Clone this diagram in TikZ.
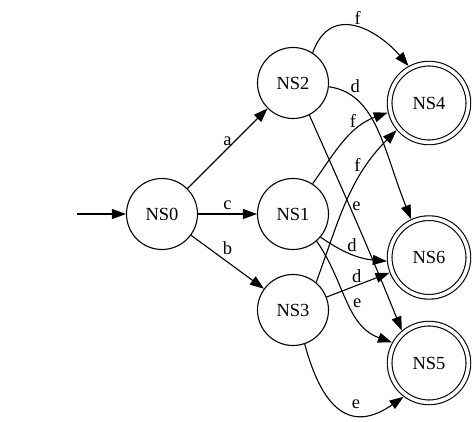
\documentclass[tikz,border=0pt]{standalone}
\usepackage{fontspec}
\setmainfont{Liberation Serif}
\usetikzlibrary{arrows.meta,positioning}

\begin{document}
\begin{tikzpicture}[x=1pt, y=1pt, line width=1.1pt, node distance=131pt,
    every node/.style={font=\fontsize{18.5}{22}\selectfont},
    nsnode/.style={draw, circle, minimum size=71pt, inner sep=0pt},
    finalnode/.style={nsnode, double, double distance=3.6pt, minimum size=78.7pt, outer sep=3pt},
    lbl/.style={inner sep=2pt},
    >={Triangle[length=14pt, width=10pt]}]
  % NFA with start state NS0 and three accepting states
  \useasboundingbox (0,0) rectangle (476,422);
  \node[nsnode] (ns0) at (162,208) {NS0};
  \node[nsnode, right of=ns0] (ns1) {NS1};
  \node[nsnode, above of=ns1] (ns2) {NS2};
  \node[nsnode, below of=ns1, node distance=96pt] (ns3) {NS3};
  \node[finalnode] (ns4) at (429,319) {NS4};
  \node[finalnode] (ns6) at (429,164.5) {NS6};
  \node[finalnode] (ns5) at (429,59) {NS5};
  \coordinate (init) at (77,208);

  \draw[->] (init) -- (ns0);
  \draw[->] (ns0) -- node[lbl, above] {a} (ns2);
  \draw[->] (ns0) -- node[lbl, above=2pt] {c} (ns1);
  \draw[->] (ns0) -- node[lbl, above=5pt] {b} (ns3);
  \draw[->] (ns2.57) to[out=70, in=130, out looseness=1.5, in looseness=1.1]
                     node[lbl, above] {f} (ns4.119);
  \draw[->] (ns2.-6) to[out=-8, in=112, out looseness=.8, in looseness=1.2]
                     node[lbl, pos=.22, above=3pt] {d} (ns6.115);
  \draw[->] (ns2.-63) to[out=-66, in=112] node[lbl, pos=.42, right] {e} (ns5.130);
  \draw[->] (ns1.57) to[out=55, in=200] node[lbl, pos=.62, above=3pt] {f} (ns4.193);
  \draw[->] (ns1.-40) to[out=-35, in=175] node[lbl, above] {d} (ns6.185);
  \draw[->] (ns1.-49) to[out=-55, in=160] node[lbl, pos=.52, right=2pt] {e} (ns5.151);
  \draw[->] (ns3.50) to[out=70, in=225] node[lbl, pos=.75, left=4pt] {f} (ns4.220);
  \draw[->] (ns3) -- node[lbl, pos=.48, above] {d} (ns6);
  \draw[->] (ns3.-71) to[out=-75, in=215, looseness=1.5]
                      node[lbl, pos=.65, above=3pt] {e} (ns5.233);
\end{tikzpicture}
\end{document}
